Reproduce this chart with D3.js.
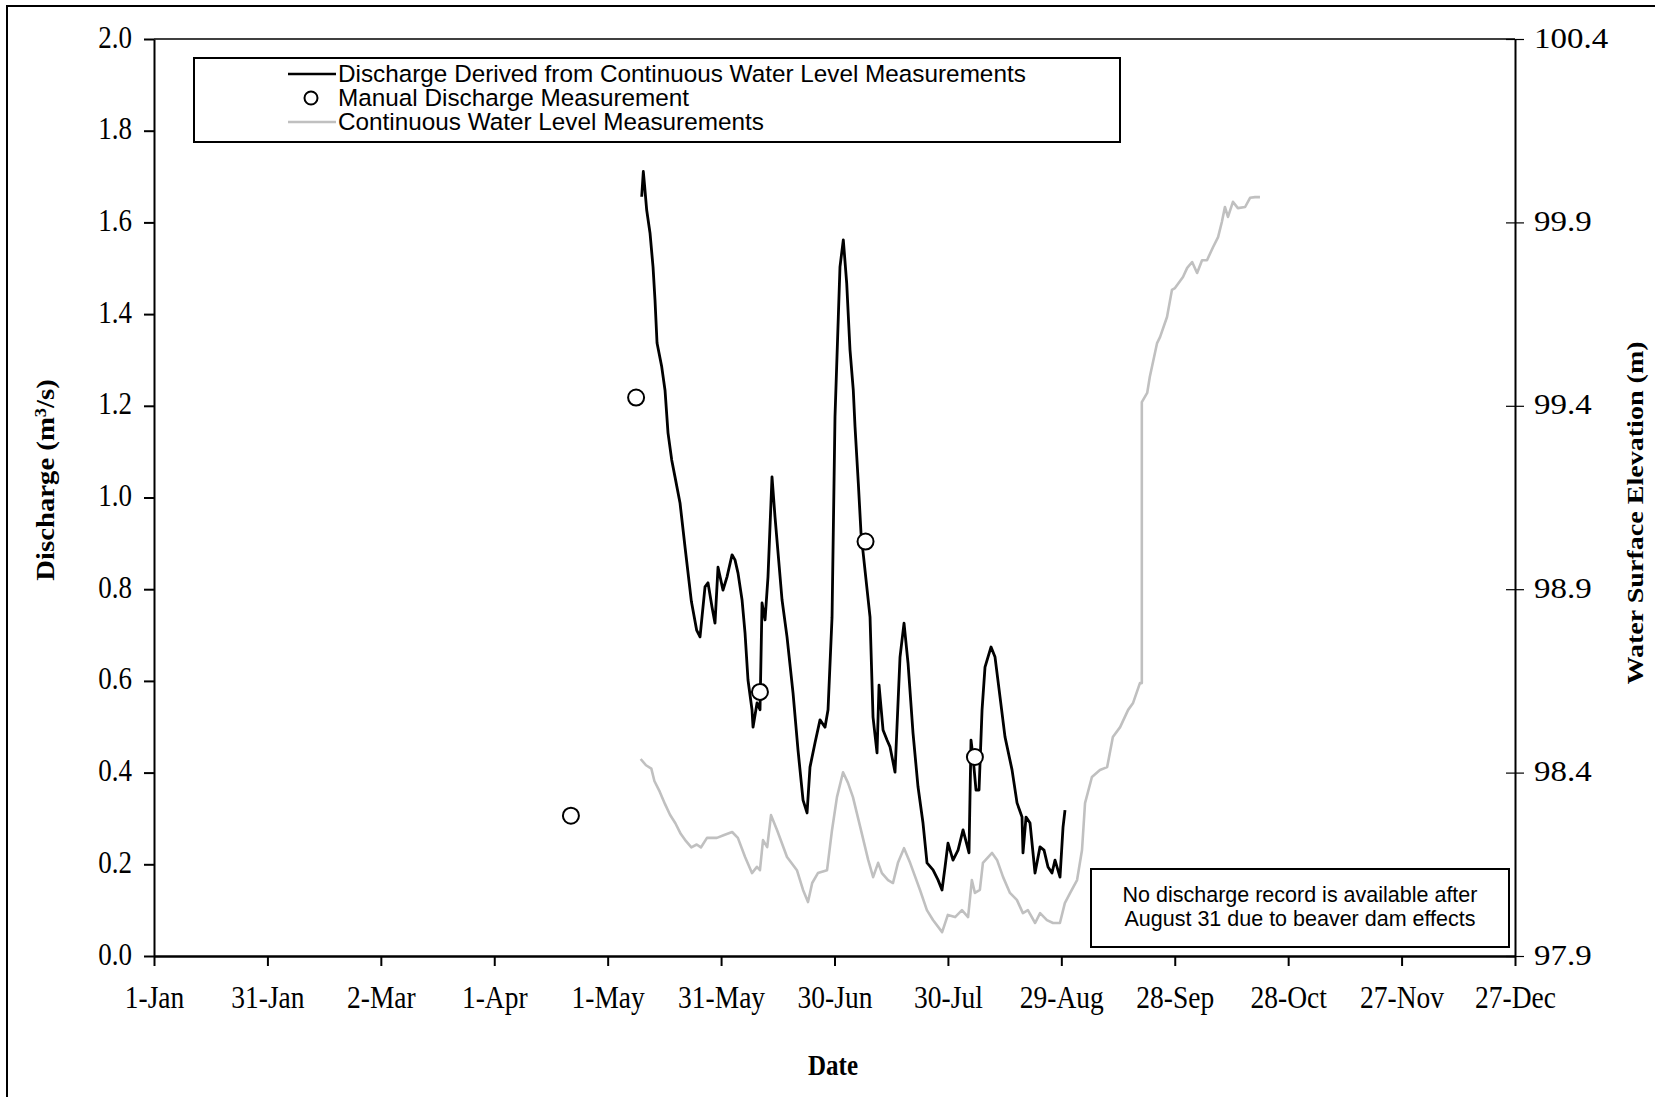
<!DOCTYPE html>
<html><head><meta charset="utf-8">
<script src="https://cdn.jsdelivr.net/npm/d3@7"></script>
<style>body{margin:0;background:#fff;overflow:hidden}</style>
</head><body>
<svg id="c" width="1655" height="1097"></svg>
<script>
// ---------- DATA ----------
const tickDays = [0,30,60,90,120,150,180,210,240,270,300,330,360];
const tickLabels = ["1-Jan","31-Jan","2-Mar","1-Apr","1-May","31-May","30-Jun","30-Jul","29-Aug","28-Sep","28-Oct","27-Nov","27-Dec"];
const dischargeTicks = [0,0.2,0.4,0.6,0.8,1.0,1.2,1.4,1.6,1.8,2.0];
const elevationTicks = [97.9,98.4,98.9,99.4,99.9,100.4];

// Discharge derived from continuous water level (day of year from 1-Jan, m3/s)
const dischargeDays = [129.00,129.43,129.75,130.32,131.20,132.00,132.52,133.06,134.30,135.17,135.96,136.94,137.81,139.14,140.46,142.15,143.53,144.43,145.75,146.54,147.60,148.39,149.19,150.51,151.57,152.90,153.68,154.48,155.54,156.33,157.12,158.18,158.45,159.51,160.30,160.83,161.63,162.41,163.47,164.27,166.12,167.44,169.03,170.35,171.68,172.74,173.52,174.85,176.17,177.49,178.29,179.35,180.13,181.01,181.45,182.33,183.23,184.10,184.97,185.43,186.30,187.01,189.40,190.19,191.25,191.78,192.84,193.89,194.69,196.01,197.33,198.39,199.45,200.77,202.09,203.41,204.47,206.06,207.38,208.44,209.24,210.02,211.35,212.68,214.00,215.58,216.11,216.64,217.43,218.23,219.03,219.81,221.41,222.46,223.78,225.10,226.96,228.28,229.60,229.86,230.66,231.72,233.04,234.36,235.42,236.48,237.53,238.33,239.65,240.45,240.97];
const dischargeValues = [1.656,1.711,1.682,1.627,1.577,1.503,1.431,1.337,1.285,1.234,1.141,1.082,1.045,0.988,0.892,0.773,0.711,0.696,0.805,0.814,0.761,0.726,0.848,0.798,0.827,0.875,0.864,0.835,0.777,0.705,0.602,0.537,0.499,0.552,0.537,0.770,0.733,0.827,1.045,0.957,0.777,0.696,0.574,0.449,0.340,0.312,0.412,0.465,0.515,0.499,0.537,0.739,1.176,1.394,1.503,1.562,1.467,1.322,1.234,1.154,1.031,0.923,0.739,0.521,0.443,0.591,0.493,0.471,0.456,0.401,0.652,0.726,0.639,0.486,0.369,0.290,0.203,0.188,0.166,0.144,0.194,0.246,0.209,0.231,0.275,0.225,0.471,0.434,0.362,0.362,0.537,0.630,0.674,0.652,0.565,0.478,0.406,0.334,0.303,0.225,0.303,0.290,0.181,0.238,0.231,0.194,0.181,0.209,0.172,0.281,0.318];

// Manual discharge measurements
const manualDays = [110.28,127.52,160.28,188.21,217.14];
const manualValues = [0.306,1.218,0.576,0.904,0.434];

// Continuous water level (day of year from 1-Jan, m)
const levelDays = [128.73,130.14,131.55,132.36,133.77,135.18,136.49,137.91,139.32,140.73,142.14,143.55,144.66,146.27,148.89,150.81,152.93,154.44,156.35,158.17,159.48,160.28,161.09,162.20,163.21,164.82,167.44,170.06,171.68,172.99,174.10,175.61,178.03,179.34,180.65,182.26,183.57,184.88,186.80,188.91,190.22,191.54,192.54,194.16,195.47,196.78,198.39,200.00,202.62,204.44,206.05,208.47,209.98,211.90,213.71,215.33,216.33,217.14,218.45,219.26,221.68,222.99,224.60,226.41,228.23,229.84,231.15,233.07,234.38,236.19,237.81,239.62,240.93,242.34,244.16,245.47,246.27,248.09,250.21,252.12,253.63,255.55,257.67,258.98,260.79,261.29,261.29,262.71,263.41,265.33,266.13,267.95,269.26,270.06,272.18,273.29,274.60,275.91,277.22,278.53,280.15,281.46,282.46,283.27,284.08,285.39,286.70,288.61,289.92,291.23,292.54];
const levelValues = [98.437,98.420,98.411,98.377,98.348,98.314,98.285,98.262,98.233,98.213,98.196,98.204,98.196,98.222,98.222,98.230,98.238,98.222,98.170,98.126,98.143,98.134,98.216,98.197,98.284,98.243,98.170,98.134,98.080,98.047,98.099,98.126,98.134,98.243,98.333,98.401,98.372,98.333,98.252,98.162,98.115,98.154,98.126,98.107,98.099,98.154,98.194,98.154,98.080,98.025,97.998,97.965,98.012,98.006,98.025,98.006,98.107,98.072,98.080,98.154,98.181,98.162,98.115,98.072,98.053,98.017,98.025,97.990,98.017,97.998,97.990,97.990,98.044,98.072,98.107,98.189,98.317,98.388,98.407,98.415,98.497,98.524,98.571,98.590,98.644,98.644,99.410,99.435,99.479,99.571,99.588,99.642,99.716,99.721,99.751,99.776,99.792,99.762,99.797,99.797,99.833,99.860,99.901,99.942,99.915,99.956,99.939,99.942,99.967,99.969,99.969];

const legendLabels = ["Discharge Derived from Continuous Water Level Measurements","Manual Discharge Measurement","Continuous Water Level Measurements"];
const noteLines = ["No discharge record is available after","August 31 due to beaver dam effects"];

// ---------- LAYOUT ----------
const L = 154, R = 1515, T = 39, B = 956;
const SERIF = "'Liberation Serif','Times New Roman',serif";
const SANS = "'Liberation Sans',Arial,sans-serif";
const svg = d3.select("#c");

const x = d3.scaleLinear().domain([0,360]).range([L,R]);
const yQ = d3.scaleLinear().domain([0,2]).range([B,T]);
const yE = d3.scaleLinear().domain([97.9,100.4]).range([B,T]);

// outer frame
svg.append("rect").attr("x",7).attr("y",6).attr("width",1800).attr("height",1300)
  .attr("fill","none").attr("stroke","#000").attr("stroke-width",2);

// top border of plot
svg.append("line").attr("x1",L).attr("x2",R).attr("y1",T).attr("y2",T)
  .attr("stroke","#000").attr("stroke-width",1.5);

// series
const levelPts = levelDays.map((d,i)=>[d,levelValues[i]]);
const qPts = dischargeDays.map((d,i)=>[d,dischargeValues[i]]);
svg.append("path").datum(levelPts)
  .attr("d", d3.line().x(d=>x(d[0])).y(d=>yE(d[1])))
  .attr("fill","none").attr("stroke","#c0c0c0").attr("stroke-width",2.6).attr("stroke-linejoin","round");
svg.append("path").datum(qPts)
  .attr("d", d3.line().x(d=>x(d[0])).y(d=>yQ(d[1])))
  .attr("fill","none").attr("stroke","#000").attr("stroke-width",2.8).attr("stroke-linejoin","round");
svg.selectAll("circle.m").data(manualDays.map((d,i)=>[d,manualValues[i]])).join("circle")
  .attr("class","m").attr("cx",d=>x(d[0])).attr("cy",d=>yQ(d[1])).attr("r",8)
  .attr("fill","#fff").attr("stroke","#000").attr("stroke-width",2);

// axes
const gx = svg.append("g").attr("transform",`translate(0,${B})`)
  .call(d3.axisBottom(x).tickValues(tickDays).tickFormat((d,i)=>tickLabels[i]).tickSizeInner(10).tickSizeOuter(0));
gx.select(".domain").attr("stroke-width",2.5);
gx.selectAll(".tick line").attr("stroke-width",2);
gx.selectAll("text").attr("y",0).attr("dy",null)
  .attr("transform","translate(0,52) scale(1,1.12)")
  .style("font-family",SERIF).style("font-size","27.5px").attr("fill","#000");

const gl = svg.append("g").attr("transform",`translate(${L},0)`)
  .call(d3.axisLeft(yQ).tickValues(dischargeTicks).tickFormat(d3.format(".1f")).tickSizeInner(10).tickSizeOuter(0));
gl.select(".domain").attr("stroke-width",2);
gl.selectAll(".tick line").attr("stroke-width",2);
gl.selectAll("text").attr("x",0).attr("dy",null).attr("y",0)
  .attr("transform","translate(-22,8) scale(1,1.15)")
  .style("font-family",SERIF).style("font-size","27px").attr("fill","#000");

const gr = svg.append("g").attr("transform",`translate(${R},0)`)
  .call(d3.axisRight(yE).tickValues(elevationTicks).tickFormat(d3.format(".1f")).tickSizeInner(9).tickSizeOuter(0));
gr.select(".domain").attr("stroke-width",2);
gr.selectAll(".tick line").attr("x1",-9).attr("x2",9).attr("stroke-width",1.2);
gr.selectAll("text").attr("x",0).attr("dy",null).attr("y",0)
  .attr("transform","translate(19,8) scale(1.22,1.1)")
  .style("font-family",SERIF).style("font-size","27px").attr("fill","#000");

// axis titles
svg.append("text").attr("transform","translate(833,1075) scale(1,1.15)").attr("text-anchor","middle")
  .style("font-family",SERIF).style("font-size","25px").style("font-weight","bold").text("Date");
const lt = svg.append("text").attr("transform","translate(54,480) rotate(-90) scale(1.15,1)").attr("text-anchor","middle")
  .style("font-family",SERIF).style("font-size","25px").style("font-weight","bold");
lt.append("tspan").text("Discharge (m");
lt.append("tspan").attr("baseline-shift","super").style("font-size","16px").text("3");
lt.append("tspan").text("/s)");
svg.append("text").attr("transform","translate(1643,513) rotate(-90) scale(1.17,1)").attr("text-anchor","middle")
  .style("font-family",SERIF).style("font-size","24px").style("font-weight","bold").text("Water Surface Elevation (m)");

// legend
svg.append("rect").attr("x",194).attr("y",58).attr("width",926).attr("height",84)
  .attr("fill","#fff").attr("stroke","#000").attr("stroke-width",2);
const legRowY = [82,106,130];
svg.append("line").attr("x1",288).attr("x2",336).attr("y1",74).attr("y2",74).attr("stroke","#000").attr("stroke-width",2.5);
svg.append("circle").attr("cx",311).attr("cy",98).attr("r",6.5).attr("fill","#fff").attr("stroke","#000").attr("stroke-width",2);
svg.append("line").attr("x1",288).attr("x2",336).attr("y1",122).attr("y2",122).attr("stroke","#c0c0c0").attr("stroke-width",2.5);
svg.selectAll("text.leg").data(legendLabels).join("text").attr("class","leg")
  .attr("x",338).attr("y",(d,i)=>legRowY[i])
  .style("font-family",SANS).style("font-size","24.3px").text(d=>d);

// note box
svg.append("rect").attr("x",1091).attr("y",869).attr("width",418).attr("height",78)
  .attr("fill","#fff").attr("stroke","#000").attr("stroke-width",2);
svg.selectAll("text.note").data(noteLines).join("text").attr("class","note")
  .attr("x",1300).attr("y",(d,i)=>902+i*24).attr("text-anchor","middle")
  .style("font-family",SANS).style("font-size","21.5px").text(d=>d);
</script>
</body></html>
